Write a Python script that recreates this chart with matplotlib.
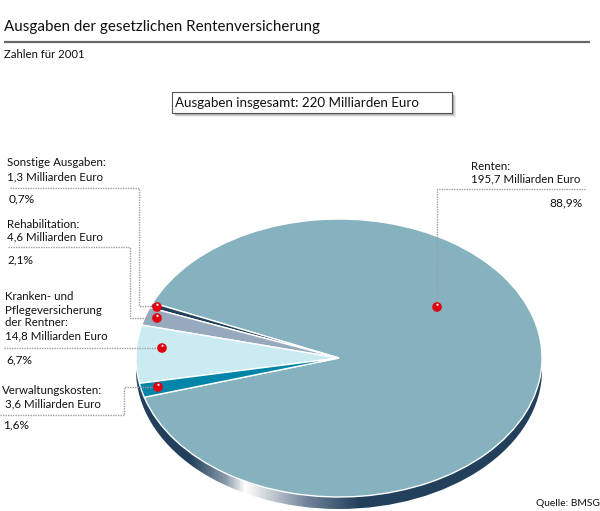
import matplotlib
matplotlib.use("Agg")
import matplotlib.pyplot as plt
import numpy as np
from matplotlib.colors import LinearSegmentedColormap
from matplotlib.patches import Ellipse, Rectangle

plt.rcParams["font.family"] = ["Lato", "DejaVu Sans"]

# values in Milliarden Euro, pie order counter-clockwise from the lower left
slice_names = ["Renten", "Sonstige Ausgaben", "Rehabilitation", "Kranken- und Pflege", "Verwaltungskosten"]
slice_values = [195.7, 1.3, 4.6, 14.8, 3.6]
slice_colors = ["#85b2be", "#22405c", "#96a9bd", "#cbebf3", "#0085a8"]

title = "Ausgaben der gesetzlichen Rentenversicherung"
subtitle = "Zahlen für 2001"
total_label = "Ausgaben insgesamt: 220 Milliarden Euro"
source = "Quelle: BMSG"

W, H = 600, 511
CX, CY, RX, RY = 339, 358, 203, 139
DEPTH = 12
TEXT = "#111111"

fig = plt.figure(figsize=(W / 100, H / 100), dpi=100, facecolor="white")

# background axes in image pixels
bg = fig.add_axes([0, 0, 1, 1])
bg.set_xlim(0, W)
bg.set_ylim(H, 0)
bg.axis("off")

# pie rim: shifted ellipse filled with a horizontal gradient
rim_cmap = LinearSegmentedColormap.from_list(
    "rim",
    [(0, "#22405c"), (0.13, "#22405c"), (0.22, "#8a99aa"), (0.268, "#ffffff"),
     (0.33, "#c5ccd4"), (0.42, "#71839a"), (0.55, "#22405c"), (1, "#22405c")],
)
gradient = np.linspace(0, 1, 400).reshape(1, -1)
im = bg.imshow(gradient, cmap=rim_cmap, aspect="auto",
               extent=[CX - RX, CX + RX, CY + RY + DEPTH, CY - RY + DEPTH], zorder=1)
rim = Ellipse((CX, CY + DEPTH), 2 * RX, 2 * RY, transform=bg.transData, facecolor="none", edgecolor="none")
bg.add_patch(rim)
im.set_clip_path(rim)
bg.set_xlim(0, W)
bg.set_ylim(H, 0)

# pie itself, stretched into an ellipse by the axes shape
pie_ax = fig.add_axes([(CX - 1.25 * RX) / W, 1 - (CY + 1.25 * RY) / H, 2.5 * RX / W, 2.5 * RY / H])
pie_ax.patch.set_alpha(0)
pie_ax.pie(slice_values, colors=slice_colors, startangle=196.4, counterclock=True,
           wedgeprops={"edgecolor": "white", "linewidth": 1.0})
pie_ax.set_aspect("auto")
pie_ax.set_xlim(-1.25, 1.25)
pie_ax.set_ylim(-1.25, 1.25)

# overlay for text, leaders and markers
ov = fig.add_axes([0, 0, 1, 1])
ov.patch.set_alpha(0)
ov.set_xlim(0, W)
ov.set_ylim(H, 0)
ov.axis("off")

ov.plot([4, 590], [42, 42], color="#666666", lw=1.6, solid_capstyle="butt")
ov.text(4, 27, title, fontsize=10.9, color=TEXT, va="center")
ov.text(4, 55, subtitle, fontsize=8.2, color=TEXT, va="center")

# total box with soft shadow
for off, a in [(4, 0.12), (3, 0.2), (2, 0.3)]:
    ov.add_patch(Rectangle((172 + off, 92 + off), 280, 21, facecolor="#666666", edgecolor="none", alpha=a))
ov.add_patch(Rectangle((172, 92), 280, 21, facecolor="white", edgecolor="#555555", lw=0.8))
ov.text(175, 103, total_label, fontsize=9.6, color=TEXT, va="center")

labels = [
    (7, [(162, "Sonstige Ausgaben:"), (177, "1,3 Milliarden Euro")], (9, 199, "0,7%")),
    (7, [(224, "Rehabilitation:"), (237, "4,6 Milliarden Euro")], (7, 260, "2,1%")),
    (5, [(297, "Kranken- und"), (310, "Pflegeversicherung"), (323, "der Rentner:"), (336, "14,8 Milliarden Euro")],
     (6, 360, "6,7%")),
    (2, [(391, "Verwaltungskosten:"), (404, " 3,6 Milliarden Euro")], (3, 425, "1,6%")),
    (471, [(166, "Renten:"), (179, "195,7 Milliarden Euro")], (583, 203, "88,9%")),
]
for x, rows, pct in labels:
    for y, s in rows:
        ov.text(x, y, s, fontsize=8.3, color=TEXT, va="center")
    ov.text(pct[0], pct[1], pct[2], fontsize=8.6, color=TEXT, va="center",
            ha="right" if pct[0] > 500 else "left")
ov.text(600, 504, source, fontsize=7.4, color=TEXT, va="center", ha="right")

leaders = [
    ([10, 139, 139, 157], [188, 188, 306, 306]),
    ([8, 130, 130, 157], [247, 247, 318, 318]),
    ([4, 162], [348, 348]),
    ([0, 124, 124, 158], [415, 415, 387, 387]),
    ([585, 437, 437], [189, 189, 307]),
]
for xs, ys in leaders:
    ov.plot(xs, ys, color="#a0a0a0", lw=1.0, ls=(0, (1, 0.8)), zorder=3)

dots_x = [157, 157, 162, 158, 437]
dots_y = [307, 318, 348, 387, 307]
ov.scatter(dots_x, dots_y, s=48, color="#e00010", edgecolor="none", zorder=4)
ov.scatter(np.array(dots_x) + 0.5, np.array(dots_y) - 2.2, s=2.5, color="white", edgecolor="none", zorder=5)

fig.savefig("out.png", dpi=100)
